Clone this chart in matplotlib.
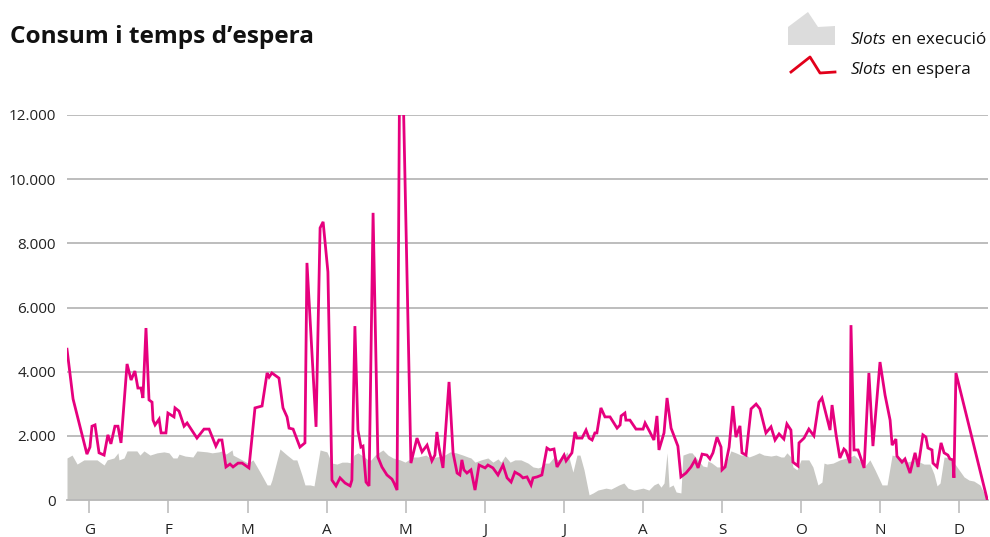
import matplotlib
matplotlib.use("Agg")
import matplotlib.pyplot as plt
from matplotlib.patches import Polygon
from matplotlib.lines import Line2D

# ---- data ----
wait_day = [0, 2.4, 7.9, 9.1, 9.9, 11.1, 12.7, 14.7, 16.2, 17.4, 19.0, 20.2, 21.4, 23.8, 25.4, 26.9,
            28.1, 29.3, 30.1, 31.3, 32.5, 33.7, 34.1, 34.9, 36.5, 37.3, 39.2, 40.0, 42.4, 42.8, 44.4,
            46.4, 47.6, 51.5, 54.3, 56.3, 59.0, 60.2, 61.4, 63.0, 64.6, 65.8, 67.8, 69.4, 72.1, 74.5,
            77.3, 79.3, 80.1, 81.2, 84.0, 85.6, 87.2, 88.0, 89.6, 92.3, 94.3, 95.1, 98.7, 100.3, 101.5,
            103.4, 105.0, 106.6, 108.2, 110.2, 112.2, 112.9, 114.1, 115.3, 116.5, 117.3, 118.5, 119.7,
            121.3, 123.2, 124.8, 126.8, 128.8, 129.6, 130.8, 132.1, 136.3, 138.7, 140.7, 142.7, 144.6,
            145.8, 146.6, 147.4, 149.0, 151.4, 153.0, 154.6, 155.7, 156.5, 157.3, 158.5, 160.1, 161.7,
            163.3, 165.7, 166.8, 168.8, 170.8, 172.8, 174.4, 176.0, 177.5, 179.5, 180.7, 182.3, 183.9,
            184.7, 186.3, 188.2, 190.2, 191.4, 193.0, 194.2, 197.0, 197.8, 200.1, 201.3, 202.1, 204.1,
            205.7, 206.9, 208.1, 209.2, 210.0, 211.6, 213.2, 215.2, 218.0, 219.2, 219.6, 221.1, 221.5,
            223.1, 225.5, 228.3, 229.1, 231.0, 232.6, 233.8, 234.6, 236.6, 237.8, 239.4, 242.1, 243.3,
            245.3, 247.3, 248.9, 250.1, 251.7, 253.6, 254.8, 256.0, 257.6, 259.2, 259.6, 260.8, 262.4,
            263.9, 265.1, 266.7, 267.5, 269.1, 271.1, 273.1, 274.6, 277.0, 279.0, 280.6, 282.2, 284.1,
            285.3, 286.9, 287.7, 289.7, 290.1, 292.1, 294.0, 296.0, 298.0, 299.2, 301.2, 302.4, 303.2,
            304.8, 306.3, 307.9, 308.7, 310.3, 310.7, 311.9, 313.5, 315.9, 317.8, 319.4, 322.2, 324.2,
            326.2, 327.0, 328.5, 328.9, 330.9, 332.1, 334.1, 336.1, 337.3, 339.2, 340.4, 341.2, 342.8,
            343.2, 344.8, 346.4, 347.6, 349.1, 349.9, 351.1, 351.5, 352.3, 364.6]
wait_val = [4700, 3150, 1430, 1650, 2300, 2340, 1470, 1400, 2030, 1750, 2300, 2300, 1780, 4240, 3740, 4020,
            3490, 3490, 3180, 5360, 3120, 3050, 2490, 2340, 2520, 2090, 2090, 2710, 2590, 2870, 2770,
            2300, 2400, 1930, 2210, 2210, 1680, 1870, 1870, 1030, 1120, 1030, 1150, 1150, 1000, 2870,
            2930, 3960, 3830, 3960, 3800, 2870, 2590, 2240, 2210, 1650, 1780, 7390, 2280, 8480, 8670,
            7110, 620, 440, 690, 530, 440, 620, 5420, 2180, 1650, 1680, 560, 440,
            8950, 1340, 1030, 780, 650, 530, 310, 17000, 1150, 1930, 1500, 1710, 1220,
            1400, 2120, 1650, 1000, 3680, 1470, 840, 780, 1250, 940, 840, 940, 310,
            1090, 1000, 1090, 1000, 780, 1090, 690, 560, 870, 780, 690, 720, 470,
            690, 720, 780, 1620, 1560, 1590, 1030, 1400, 1220, 1470, 2120, 1930, 1930,
            2180, 1930, 1870, 2090, 2090, 2870, 2590, 2590, 2240, 2340, 2620, 2710, 2490,
            2490, 2210, 2210, 2400, 2120, 1870, 2620, 1560, 2090, 3180, 2240, 1680, 720,
            840, 1030, 1250, 1000, 1430, 1400, 1280, 1470, 1960, 1650, 940, 1030, 1650,
            2930, 1960, 2310, 1470, 1400, 2840, 2990, 2840, 2090, 2280, 1870, 2060, 1900,
            2370, 2180, 1180, 1060, 1780, 1930, 2210, 2000, 3050, 3180, 2560, 2180, 2960,
            2030, 1310, 1590, 1530, 1150, 5450, 1560, 1560, 1000, 3960, 1680, 4300, 3270,
            2490, 1710, 1900, 1370, 1180, 1280, 840, 1470, 1030, 2030, 1960, 1620, 1560,
            1150, 1030, 1780, 1470, 1400, 1280, 1250, 690, 3960, 40]

run_day = [0, 2.0, 4.0, 6.7, 11.9, 14.7, 15.9, 18.6, 20.2, 20.6, 22.6, 23.8, 27.7, 28.9, 30.5, 32.9,
           35.7, 38.4, 40.4, 42.0, 43.6, 44.4, 46.8, 49.9, 51.5, 55.5, 57.5, 60.2, 61.4, 63.0, 65.4,
           65.8, 69.4, 71.7, 73.7, 76.5, 79.3, 80.5, 81.2, 84.4, 87.2, 89.6, 91.1, 93.1, 94.3, 96.3,
           97.9, 100.3, 103.0, 105.0, 107.0, 109.0, 111.0, 112.9, 113.7, 115.3, 117.3, 119.3, 120.5,
           122.1, 124.0, 125.2, 127.2, 129.2, 132.0, 134.0, 135.9, 137.1, 139.1, 142.3, 144.3, 146.2,
           149.0, 151.8, 154.2, 156.9, 158.9, 160.1, 161.7, 164.1, 166.8, 168.8, 170.8, 172.0, 173.6,
           175.6, 177.5, 179.9, 182.7, 184.7, 186.7, 187.8, 189.0, 191.0, 193.0, 194.6, 196.6, 198.2,
           198.9, 200.5, 202.1, 203.3, 204.9, 206.9, 208.5, 210.4, 213.6, 215.6, 218.8, 220.7, 222.3,
           224.7, 228.3, 230.6, 232.6, 234.2, 235.4, 236.6, 237.8, 238.6, 240.2, 241.4, 243.3, 244.1,
           246.5, 247.7, 249.7, 252.0, 253.6, 254.0, 255.6, 257.6, 259.6, 261.2, 263.1, 265.1, 267.1,
           269.1, 270.3, 272.3, 274.3, 276.2, 279.0, 281.0, 283.0, 284.1, 285.3, 286.9, 287.7, 289.3,
           290.9, 294.0, 295.6, 297.6, 299.2, 300.0, 301.2, 303.6, 306.3, 309.1, 311.1, 311.9, 313.9,
           315.9, 318.2, 320.2, 323.0, 325.0, 327.0, 329.7, 332.9, 336.1, 339.6, 342.0, 343.6, 344.8,
           346.0, 347.6, 349.9, 351.9, 355.5, 357.5, 359.4, 361.8, 364.2]
run_val = [1310, 1400, 1120, 1250, 1250, 1090, 1250, 1310, 1470, 1250, 1310, 1530, 1530, 1400, 1530, 1400,
           1470, 1500, 1470, 1310, 1310, 1430, 1370, 1340, 1530, 1500, 1470, 1500, 1530, 1430, 1560,
           1400, 1250, 1150, 1250, 870, 470, 470, 620, 1590, 1400, 1250, 1250, 780, 470, 470,
           440, 1560, 1500, 1150, 1120, 1180, 1180, 1150, 1400, 1470, 1370, 1250, 1250,
           1400, 1500, 1560, 1400, 1310, 1250, 1180, 1280, 1340, 1340, 1400, 1280, 1340,
           1370, 1500, 1470, 1400, 1340, 1310, 1180, 1250, 1310, 1180, 1280, 1180, 1370,
           1180, 1250, 1250, 1150, 1030, 1000, 1030, 1150, 1150, 1340, 1250, 1340, 1500,
           1340, 870, 1400, 1400, 940, 160, 220, 310, 370, 340, 470, 530, 370,
           310, 370, 310, 470, 530, 400, 530, 1470, 400, 470, 250, 220, 1400,
           1470, 1470, 1280, 1060, 1030, 1220, 1150, 1030, 1030, 1150, 1530, 1470, 1400,
           1400, 1340, 1400, 1470, 1400, 1370, 1400, 1340, 1340, 1470, 1340, 1030, 940,
           1250, 1250, 1030, 470, 560, 1150, 1120, 1150, 1250, 1310, 1370, 1400, 1250,
           1030, 1250, 940, 470, 470, 1400, 1340, 1180, 1250, 1120, 1120, 810, 440,
           530, 1340, 1310, 1120, 720, 620, 590, 470, 90]

month_labels = ["G", "F", "M", "A", "M", "J", "J", "A", "S", "O", "N", "D"]
y_ticks = [0, 2000, 4000, 6000, 8000, 10000, 12000]

PINK = "#e6007e"
GREY = "#c8c8c4"
FONT = "Open Sans"

fig = plt.figure(figsize=(9.9, 5.37), dpi=100)
W, H = 990, 537
ax = fig.add_axes([67 / W, 1 - 500 / H, 921 / W, 385 / H])

ax.fill_between(run_day, run_val, 0, color=GREY, linewidth=0, zorder=2)
ax.plot(wait_day, wait_val, color=PINK, lw=2.0, zorder=3, solid_joinstyle="miter")

ax.set_xlim(0, 365)
ax.set_ylim(0, 12000)
ax.set_yticks(y_ticks)
ax.set_yticklabels([f"{v:,}".replace(",", ".") for v in y_ticks], fontsize=11, family=FONT, color="#222222")
ax.grid(axis="y", color="#b8b8b8", lw=1.3, zorder=1)
ax.tick_params(axis="y", length=0, pad=8)

month_pos = [8.85 + 31.35 * i for i in range(12)]
ax.set_xticks(month_pos)
ax.set_xticklabels(month_labels, fontsize=11, family=FONT, color="#222222")
ax.tick_params(axis="x", length=9.5, width=1.1, color="#b8b8b8", pad=7)

for s in ["top", "right", "left"]:
    ax.spines[s].set_visible(False)
ax.spines["bottom"].set_color("#b8b8b8")
ax.spines["bottom"].set_linewidth(1.3)

fig.text(10 / W, 1 - 37 / H, "Consum i temps d\u2019espera", fontsize=17.6, fontweight="bold",
         family=FONT, va="center", ha="left", color="#111111")

# legend icons
poly = Polygon([[788 / W, 1 - 45 / H], [788 / W, 1 - 27 / H], [808 / W, 1 - 12 / H], [818 / W, 1 - 27 / H],
                [835 / W, 1 - 26 / H], [835 / W, 1 - 45 / H]], closed=True, transform=fig.transFigure,
               facecolor="#dcdcdc", edgecolor="none")
fig.patches.append(poly)
fig.lines.append(Line2D([791 / W, 810 / W, 820 / W, 835 / W], [1 - 72 / H, 1 - 57 / H, 1 - 73 / H, 1 - 72 / H],
                        transform=fig.transFigure, color="#e2001a", lw=2))

fig.canvas.draw()
r = fig.canvas.get_renderer()
for ytxt, rest in [(40, " en execuci\u00f3"), (70, " en espera")]:
    t = fig.text(851 / W, 1 - ytxt / H, "Slots", fontsize=12.3, style="italic", family=FONT,
                 va="center", ha="left", color="#111111")
    bb = t.get_window_extent(renderer=r)
    fig.text(bb.x1 / W, 1 - ytxt / H, rest, fontsize=12.3, family=FONT, va="center", ha="left", color="#111111")

fig.savefig("out.png", dpi=100)
